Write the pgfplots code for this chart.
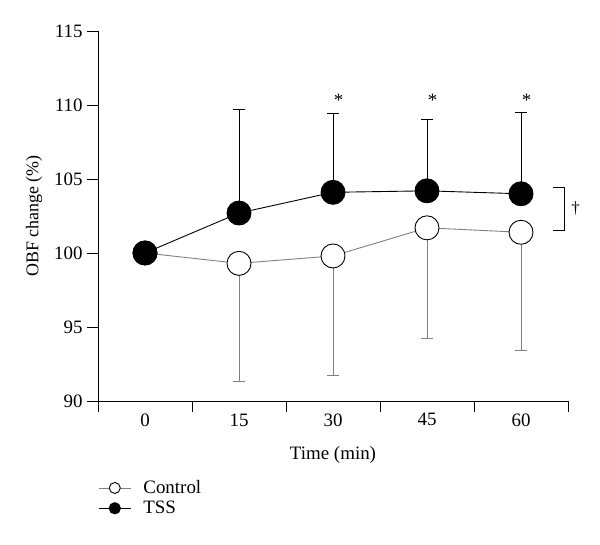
\documentclass[border=0pt]{standalone}
\usepackage{pgfplots}
\pgfplotsset{compat=1.18}
\usepackage{fontspec}
\setmainfont{Liberation Serif}
\begin{document}
\begin{tikzpicture}[x=1bp,y=1bp]
\path[use as bounding box] (0,0) rectangle (600,545);
\begin{axis}[
  at={(98bp,144bp)}, anchor=south west,
  scale only axis, width=470bp, height=370bp,
  xmin=-0.5, xmax=4.5, ymin=90, ymax=115,
  axis lines=left, axis line style={-, line width=0.9pt},
  xtick={-0.5,0.5,1.5,2.5,3.5,4.5}, xticklabels={},
  extra x ticks={0,1,2,3,4}, extra x tick labels={0,15,30,45,60},
  extra x tick style={major tick length=0pt, tick style={draw=none}, tick label style={yshift=-9bp}},
  ytick={90,95,...,115},
  yticklabel style={xshift=-1bp},
  tick align=outside, major tick length=11bp,
  tick style={line width=0.9pt, black},
  /pgf/number format/assume math mode=true,
  tick label style={font=\fontsize{19}{22}\selectfont},
  xlabel style={font=\fontsize{19}{22}\selectfont, yshift=-2bp},
  ylabel style={font=\fontsize{18}{21}\selectfont, yshift=5bp},
  xlabel={Time (min)}, ylabel={OBF change (\%)},
  clip=false,
  legend style={draw=none, fill=none, at={(rel axis cs:0.0,-0.212)}, anchor=north west,
    font=\fontsize{19}{22}\selectfont, row sep=4bp, column sep=11bp, inner sep=0pt,
    nodes={inner sep=1bp}},
  legend cell align=left,
  legend image code/.code={\draw[#1, mark repeat=2, mark phase=2] plot coordinates {(0bp,0bp) (16bp,0bp) (32bp,0bp)};},
]
% error bars control (downward)
\addplot[gray, line width=0.9pt, forget plot, mark=none, draw=none,
  error bars/.cd, y dir=minus, y explicit, error mark=-, error mark options={rotate=90, mark size=6bp, gray, line width=0.9pt},
  error bar style={gray, line width=0.9pt}]
  coordinates {(1,99.3) -= (0,8.0) (2,99.8) -= (0,8.1) (3,101.7) -= (0,7.5) (4,101.4) -= (0,8.0)};
% error bars TSS (upward)
\addplot[black, forget plot, mark=none, draw=none,
  error bars/.cd, y dir=plus, y explicit, error mark=-, error mark options={rotate=90, mark size=6bp, black, line width=0.9pt},
  error bar style={black, line width=0.9pt}]
  coordinates {(1,102.7) += (0,7.0) (2,104.1) += (0,5.3) (3,104.2) += (0,4.8) (4,104.0) += (0,5.5)};
% control line
\addplot[gray, line width=0.9pt, forget plot, mark=*, mark size=12bp, mark options={fill=white, draw=black, line width=0.9pt}]
  coordinates {(0,100) (1,99.3) (2,99.8) (3,101.7) (4,101.4)};
% TSS line
\addplot[black, line width=0.9pt, forget plot, mark=*, mark size=12bp, mark options={fill=black, draw=black}]
  coordinates {(0,100) (1,102.7) (2,104.1) (3,104.2) (4,104.0)};
\addlegendimage{gray, line width=0.9pt, mark=*, mark size=5.5bp, mark options={fill=white, draw=black, line width=0.9pt}}
\addlegendentry{Control}
\addlegendimage{black, line width=1.2pt, mark=*, mark size=5.5bp, mark options={fill=black}}
\addlegendentry{TSS}
\node[font=\fontsize{19}{22}\selectfont] at (axis cs:2.06,110.3) {*};
\node[font=\fontsize{19}{22}\selectfont] at (axis cs:3.06,110.3) {*};
\node[font=\fontsize{19}{22}\selectfont] at (axis cs:4.06,110.3) {*};
\draw[line width=0.9pt] (axis cs:4.34,104.46) -- (axis cs:4.457,104.46) -- (axis cs:4.457,101.5) -- (axis cs:4.34,101.5);
\node[font=\fontsize{17}{20}\selectfont] at (axis cs:4.58,103.0) {†};
\end{axis}
\end{tikzpicture}
\end{document}
